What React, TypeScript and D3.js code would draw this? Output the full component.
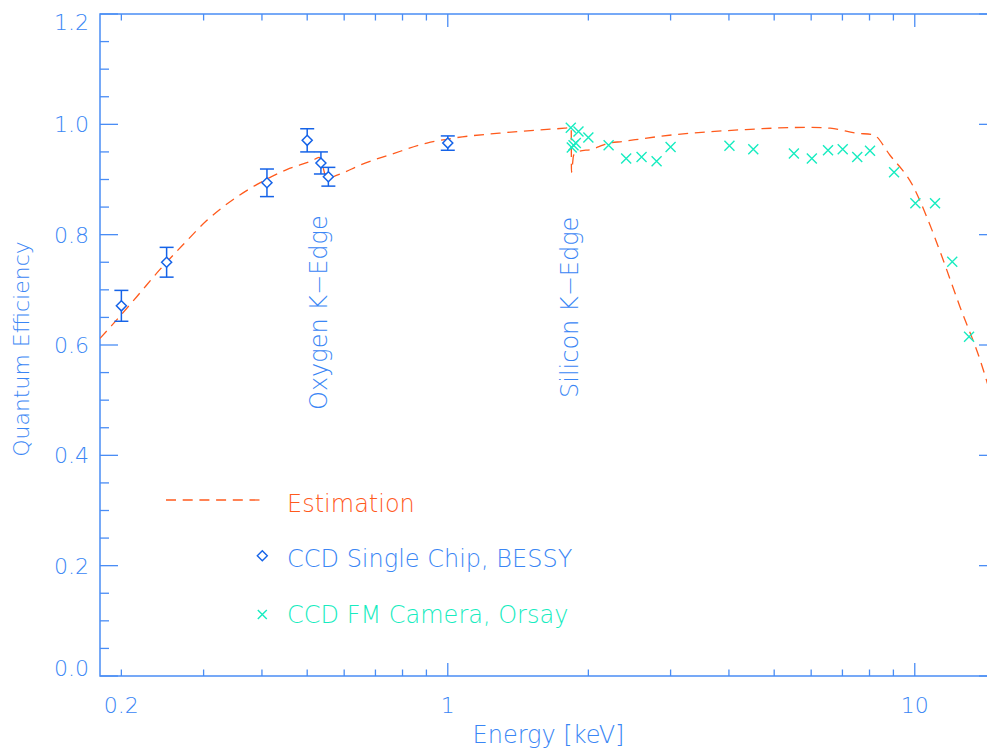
import React from "react";
import * as d3 from "d3";

const W = 987;
const H = 751;

const axisColor = "#4a8df5";
const textColor = "#3a86f5";
const bessyColor = "#1563e8";
const estColor = "#ff5a1c";
const orsayColor = "#17ecc0";
const FONT = "'DejaVu Sans', sans-serif";

// estimation curve
const estEnergy = [
  0.18, 0.191, 0.216, 0.242, 0.272, 0.305, 0.353, 0.396, 0.452, 0.515, 0.53,
  0.541, 0.551, 0.569, 0.597, 0.649, 0.765, 0.902, 1.028, 1.29, 1.58, 1.78,
  1.838, 1.84, 1.86, 1.91, 2.04, 2.1, 2.19, 2.37, 3.04, 4.23, 5.87, 6.59,
  7.51, 8.15, 8.85, 9.93, 10.6, 11.3, 12.5, 13.8, 15,
];
const estQE = [
  0.612, 0.636, 0.688, 0.737, 0.783, 0.826, 0.868, 0.894, 0.918, 0.935, 0.94,
  0.921, 0.899, 0.905, 0.912, 0.926, 0.947, 0.966, 0.975, 0.984, 0.99, 0.993,
  0.994, 0.913, 0.944, 0.951, 0.955, 0.959, 0.965, 0.969, 0.981, 0.99, 0.9945,
  0.993, 0.984, 0.981, 0.944, 0.887, 0.833, 0.772, 0.669, 0.573, 0.47,
];

// CCD single chip, BESSY
const bessyEnergy = [0.2, 0.25, 0.41, 0.5, 0.535, 0.555, 1.0];
const bessyQE = [0.671, 0.75, 0.894, 0.971, 0.93, 0.905, 0.966];
const bessyErr = [0.028, 0.027, 0.025, 0.021, 0.02, 0.017, 0.013];

// CCD FM camera, Orsay
const orsayEnergy = [
  1.834, 1.905, 2.0, 1.859, 1.88, 1.843, 2.21, 2.41, 2.6, 2.8, 3.0, 4.01, 4.51,
  5.51, 6.02, 6.52, 7.01, 7.53, 8.02, 9.03, 10.03, 11.05, 12.03, 13.07,
];
const orsayQE = [
  0.994, 0.987, 0.976, 0.962, 0.966, 0.958, 0.962, 0.938, 0.941, 0.933, 0.959,
  0.961, 0.955, 0.947, 0.938, 0.953, 0.955, 0.941, 0.952, 0.913, 0.857, 0.857,
  0.751, 0.615,
];

const xMajor = [1, 10];
const xMinor = [0.2, 0.3, 0.4, 0.5, 0.6, 0.7, 0.8, 0.9, 2, 3, 4, 5, 6, 7, 8, 9];
const xLabels = [
  { v: 0.2, t: "0.2" },
  { v: 1, t: "1" },
  { v: 10, t: "10" },
];
const yMajor = [0, 0.2, 0.4, 0.6, 0.8, 1.0, 1.2];
const yMinor = d3.range(0, 1.2001, 0.05);

const App = () => {
  const left = 100,
    right = 997,
    top = 14,
    bottom = 676;
  const x = d3.scaleLog().domain([0.18, 15]).range([left, right]);
  const y = d3.scaleLinear().domain([0, 1.2]).range([bottom, top]);

  const est = estEnergy.map((e, i) => [e, estQE[i]] as [number, number]);
  const line = d3
    .line<[number, number]>()
    .x((d) => x(d[0]))
    .y((d) => y(d[1]))
    .curve(d3.curveMonotoneX);

  const xLen = 13,
    yLen = 18;

  const diamond = (cx: number, cy: number, r: number) =>
    `M${cx},${cy - r}L${cx + r},${cy}L${cx},${cy + r}L${cx - r},${cy}Z`;
  const cross = (cx: number, cy: number, r: number) =>
    `M${cx - r},${cy - r}L${cx + r},${cy + r}M${cx - r},${cy + r}L${cx + r},${cy - r}`;

  return (
    <svg
      width={W}
      height={H}
      style={{ position: "absolute", left: 0, top: 0, background: "#fff" }}
      fontFamily={FONT}
      fontWeight={200}
    >
      <defs>
        <clipPath id="plot">
          <rect x={left} y={top} width={right - left} height={bottom - top} />
        </clipPath>
      </defs>

      {/* frame */}
      <rect
        x={left}
        y={top}
        width={right - left}
        height={bottom - top}
        fill="none"
        stroke={axisColor}
        strokeWidth={1.5}
      />

      {/* x ticks (bottom and top) */}
      {xMajor.map((v) => (
        <g key={"xM" + v} stroke={axisColor} strokeWidth={1.3}>
          <line x1={x(v)} x2={x(v)} y1={bottom} y2={bottom - xLen} />
          <line x1={x(v)} x2={x(v)} y1={top} y2={top + xLen} />
        </g>
      ))}
      {xMinor.map((v) => (
        <g key={"xm" + v} stroke={axisColor} strokeWidth={1.3}>
          <line x1={x(v)} x2={x(v)} y1={bottom} y2={bottom - xLen / 2} />
          <line x1={x(v)} x2={x(v)} y1={top} y2={top + xLen / 2} />
        </g>
      ))}
      {xLabels.map((d) => (
        <text
          key={"xl" + d.t}
          x={x(d.v)}
          y={713}
          textAnchor="middle"
          fontSize={22}
          fill={textColor}
        >
          {d.t}
        </text>
      ))}

      {/* y ticks (left and right) */}
      {yMinor.map((v) => {
        const isMajor = Math.abs(Math.round(v * 5) - v * 5) < 1e-6;
        const len = isMajor ? yLen : yLen / 2;
        return (
          <g key={"y" + v.toFixed(2)} stroke={axisColor} strokeWidth={1.3}>
            <line x1={left} x2={left + len} y1={y(v)} y2={y(v)} />
            <line x1={right} x2={right - len} y1={y(v)} y2={y(v)} />
          </g>
        );
      })}
      {yMajor.map((v, i) => {
        let base = y(v) + 8;
        if (i === 0) base = y(v);
        if (i === yMajor.length - 1) base = y(v) + 16;
        return (
          <text
            key={"yl" + v}
            x={89}
            y={base}
            textAnchor="end"
            fontSize={22}
            fill={textColor}
          >
            {v.toFixed(1)}
          </text>
        );
      })}

      {/* axis titles */}
      <text
        x={(left + right) / 2}
        y={743}
        textAnchor="middle"
        fontSize={24}
        fill={textColor}
      >
        Energy [keV]
      </text>
      <text
        transform="translate(29,349) rotate(-90)"
        textAnchor="middle"
        fontSize={22}
        fill={textColor}
      >
        Quantum Efficiency
      </text>

      {/* edge annotations */}
      <text
        transform="translate(327,410) rotate(-90)"
        fontSize={24}
        fill={textColor}
      >
        Oxygen K−Edge
      </text>
      <text
        transform="translate(578,398) rotate(-90)"
        fontSize={24}
        fill={textColor}
      >
        Silicon K−Edge
      </text>

      <g clipPath="url(#plot)">
        {/* estimation */}
        <path
          d={line(est) || ""}
          fill="none"
          stroke={estColor}
          strokeWidth={1.3}
          strokeDasharray="10,6.7"
        />

        {/* BESSY with error bars */}
        {bessyEnergy.map((e, i) => {
          const cx = x(e);
          const cy = y(bessyQE[i]);
          const y1 = y(bessyQE[i] + bessyErr[i]);
          const y2 = y(bessyQE[i] - bessyErr[i]);
          return (
            <g key={"b" + i} stroke={bessyColor} strokeWidth={1.5} fill="none">
              <line x1={cx} x2={cx} y1={y1} y2={y2} />
              <line x1={cx - 7} x2={cx + 7} y1={y1} y2={y1} />
              <line x1={cx - 7} x2={cx + 7} y1={y2} y2={y2} />
              <path d={diamond(cx, cy, 5)} fill="#fff" />
            </g>
          );
        })}

        {/* Orsay */}
        {orsayEnergy.map((e, i) => (
          <path
            key={"o" + i}
            d={cross(x(e), y(orsayQE[i]), 5)}
            stroke={orsayColor}
            strokeWidth={1.4}
            fill="none"
          />
        ))}
      </g>

      {/* legend */}
      <line
        x1={166}
        x2={262}
        y1={500}
        y2={500}
        stroke={estColor}
        strokeWidth={1.3}
        strokeDasharray="10,6.7"
      />
      <text x={287} y={511.7} fontSize={24} fill={estColor}>
        Estimation
      </text>
      <path
        d={diamond(262.3, 555.7, 5)}
        stroke={bessyColor}
        strokeWidth={1.4}
        fill="none"
      />
      <text x={287} y={567.3} fontSize={24} fill={textColor}>
        CCD Single Chip, BESSY
      </text>
      <path
        d={cross(262.3, 614.5, 4.5)}
        stroke={orsayColor}
        strokeWidth={1.4}
        fill="none"
      />
      <text x={287} y={623.3} fontSize={24} fill={orsayColor}>
        CCD FM Camera, Orsay
      </text>
    </svg>
  );
};

export default App;
